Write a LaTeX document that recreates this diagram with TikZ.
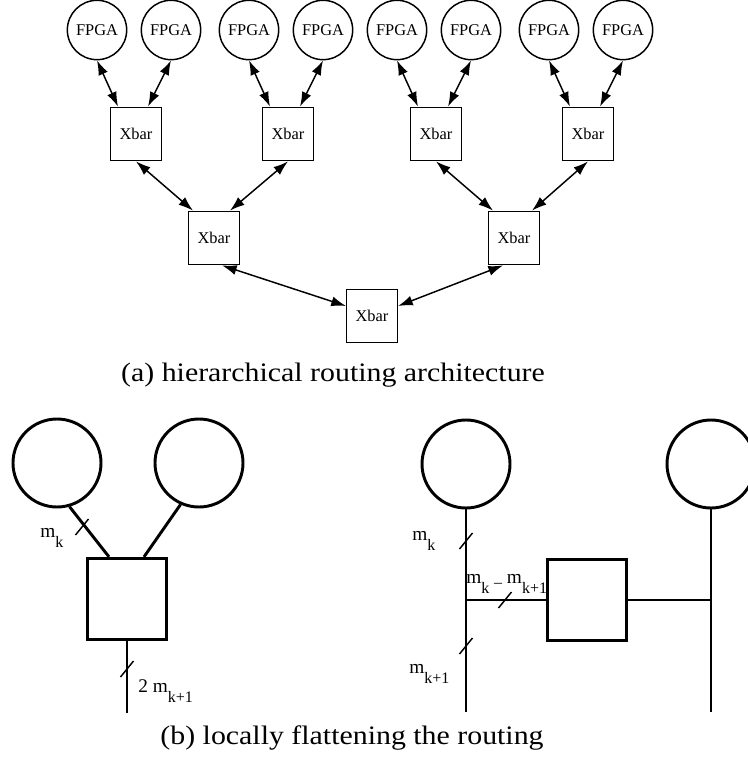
\documentclass[tikz,border=0pt]{standalone}
\usepackage{fontspec}
\setmainfont{Liberation Serif}
\usetikzlibrary{arrows.meta, calc}

\tikzset{
  fpga/.style={draw, circle, line width=1.1pt, minimum size=44.5pt, inner sep=0pt, font=\fontsize{12.3}{14}\selectfont},
  xbar/.style={draw, rectangle, line width=1.1pt, minimum width=38pt, minimum height=40pt, inner sep=0pt, font=\fontsize{12.3}{14}\selectfont},
  link/.style={line width=1.1pt, {Latex[length=11pt,width=7.5pt]}-{Latex[length=11pt,width=7.5pt]}},
  pin/.style={draw, circle, line width=2.2pt, minimum size=66pt, inner sep=0pt},
  swbox/.style={draw, rectangle, line width=2.2pt, minimum width=59pt, minimum height=61pt, inner sep=0pt},
  wire/.style={line width=2.2pt},
  busmark/.style={line width=1.1pt},
  lbl/.style={anchor=base west, inner sep=0pt, font=\fontsize{14.5}{16}\selectfont},
  caption/.style={anchor=base, inner sep=0pt, font=\fontsize{20}{24}\selectfont}
}
\newcommand{\lowsub}[1]{\raisebox{-8pt}{\fontsize{12}{13}\selectfont #1}}
\newcommand{\buscut}[1]{\draw[busmark] ($(#1)+(-6.5,8)$) -- ($(#1)+(6.5,-8)$);}
\newcommand{\wide}[1]{\scalebox{1.12}[1]{#1}}

\begin{document}
\begin{tikzpicture}[x=0.75pt, y=-0.75pt]
  \useasboundingbox (0,0) rectangle (748,763);

  % (a) the tree of crossbars
  \node[fpga] (f1) at (97,30) {FPGA};
  \node[fpga] (f2) at (171,30) {FPGA};
  \node[fpga] (f3) at (249,30) {FPGA};
  \node[fpga] (f4) at (323,30) {FPGA};
  \node[fpga] (f5) at (397,30) {FPGA};
  \node[fpga] (f6) at (471,30) {FPGA};
  \node[fpga] (f7) at (549,30) {FPGA};
  \node[fpga] (f8) at (623,30) {FPGA};

  \node[xbar] (x1) at (136,134) {Xbar};
  \node[xbar] (x2) at (288,134) {Xbar};
  \node[xbar] (x3) at (436,134) {Xbar};
  \node[xbar] (x4) at (588,134) {Xbar};

  \node[xbar] (y1) at (214,238) {Xbar};
  \node[xbar] (y2) at (514,238) {Xbar};

  \node[xbar] (z) at (372,316) {Xbar};

  \draw[link] (f1.south) -- ($(x1.north)+(-18,0)$);
  \draw[link] (f2.south) -- ($(x1.north)+(12,0)$);
  \draw[link] (f3.south) -- ($(x2.north)+(-18,0)$);
  \draw[link] (f4.south) -- ($(x2.north)+(12,0)$);
  \draw[link] (f5.south) -- ($(x3.north)+(-18,0)$);
  \draw[link] (f6.south) -- ($(x3.north)+(12,0)$);
  \draw[link] (f7.south) -- ($(x4.north)+(-18,0)$);
  \draw[link] (f8.south) -- ($(x4.north)+(12,0)$);

  \draw[link] (x1.south) -- ($(y1.north)+(-21,0)$);
  \draw[link] (x2.south) -- ($(y1.north)+(16,0)$);
  \draw[link] (x3.south) -- ($(y2.north)+(-21,0)$);
  \draw[link] (x4.south) -- ($(y2.north)+(18,0)$);

  \draw[link] ($(y1.south)+(8,0)$) -- ($(z.west)+(0,-10)$);
  \draw[link] ($(y2.south)+(-11,0)$) -- ($(z.east)+(0,-10)$);

  \node[caption] (capa) at (333,381) {\wide{(a) hierarchical routing architecture}};

  % (b) left: one crossbar level
  \node[pin] (p1) at (57,463) {};
  \node[pin] (p2) at (199,463) {};
  \node[swbox] (s1) at (127,599) {};
  \coordinate (s1end) at (127,713);

  \draw[wire] (p1.-74) -- ($(s1.north)+(-18,0)$);
  \draw[wire] (p2.-114) -- ($(s1.north)+(17,0)$);
  \draw[wire] (s1.south) -- (s1end);

  % (b) right: flattened
  \node[pin] (q1) at (466,464) {};
  \node[pin] (q2) at (711,464) {};
  \node[swbox] (s2) at (587,600) {};
  \coordinate (q1end) at (466,712);
  \coordinate (q2end) at (711,712);
  \coordinate (j1) at (466,600);
  \coordinate (j2) at (711,600);

  \draw[wire] (q1.south) -- (q1end);
  \draw[wire] (q2.south) -- (q2end);
  \draw[wire] (j1) -- (s2.west);
  \draw[wire] (s2.east) -- (j2);

  % bus widths
  \coordinate (t1) at (82,527);
  \coordinate (t2) at (127,669);
  \coordinate (t3) at (466,541);
  \coordinate (t4) at (505,600);
  \coordinate (t5) at (466,646);
  \buscut{t1}
  \buscut{t2}
  \buscut{t3}
  \buscut{t4}
  \buscut{t5}

  \node[lbl] (w1) at (40,537) {m\lowsub{k}};
  \node[lbl] (w2) at (138,692) {2 m\lowsub{k+1}};
  \node[lbl] (w3) at (412,540) {m\lowsub{k}};
  \node[lbl] (w4) at (466,583) {m\lowsub{k} \raisebox{-3pt}{\fontsize{12}{13}\selectfont –} m\lowsub{k+1}};
  \node[lbl] (w5) at (409,673) {m\lowsub{k+1}};

  \node[caption] (capb) at (352,744) {\wide{(b) locally flattening the routing}};

\end{tikzpicture}
\end{document}
